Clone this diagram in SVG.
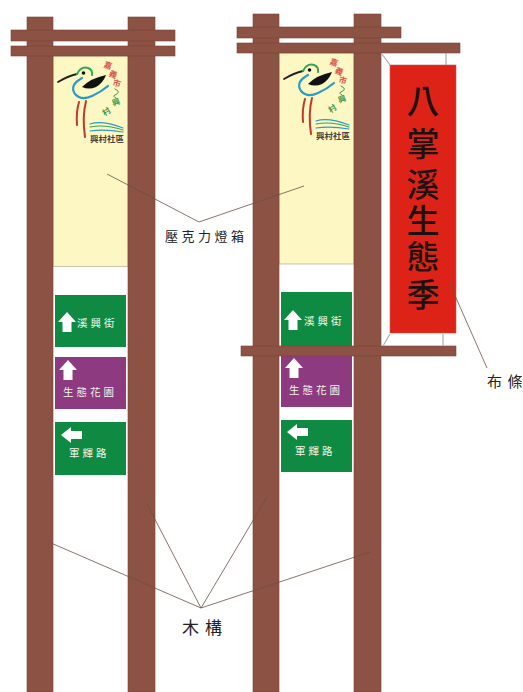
<svg xmlns="http://www.w3.org/2000/svg" width="523" height="692" viewBox="0 0 523 692">
<style>
.wood{fill:#8c5243;stroke:#7a4536;stroke-width:.6}
.panel{fill:#fdf7c4;stroke:#a89f86;stroke-width:.6}
.green{fill:#0e8a43}
.purple{fill:#8e3a80}
.arrow{fill:#fff}
.sign{font-family:"Noto Sans CJK TC","Liberation Sans",sans-serif;fill:#f2f7e8;font-size:10.500px;letter-spacing:3px}
.label{font-family:"Noto Sans CJK TC","Liberation Sans",sans-serif;fill:#222;font-size:13px;letter-spacing:4px}
.lead{fill:none;stroke:#6b5148;stroke-width:.8}
.tie{fill:none;stroke:#a9aeb4;stroke-width:1.2}
.big{font-family:"Noto Sans CJK TC","Liberation Serif",serif;fill:#1d1010;font-size:33px;font-weight:500;text-anchor:middle}
.lg{fill:none;stroke-linecap:round}
.cap{font-family:"Noto Sans CJK TC","Liberation Sans",sans-serif;fill:#444;font-size:8.500px;font-weight:700}
.rt{font-family:"Noto Sans CJK TC","Liberation Sans",sans-serif;font-size:8px;font-weight:700;text-anchor:middle}
</style>
<defs>
<g id="logo">
<path class="lg" d="M3 25 Q13 19 22 17" stroke="#222" stroke-width="1.800"/>
<path class="lg" d="M22 17 Q26 9 33 11 Q38 13 37 18" stroke="#35a655" stroke-width="2"/>
<circle cx="28.500" cy="16" r="1.800" fill="#111"/>
<path class="lg" d="M27 21 Q14 28 20 37 Q26 44 37 39 Q46 35 53 29" stroke="#2a9cc4" stroke-width="2.200"/>
<path d="M27 30 Q36 21 51 18 Q48 26 41 30 Q34 33 27 30Z" fill="#111"/>
<path class="lg" d="M24 45 Q21 55 22 68" stroke="#c0392b" stroke-width="2"/>
<path class="lg" d="M31 44 Q27 60 30 80" stroke="#c0392b" stroke-width="2"/>
<path class="lg" d="M35 67 Q47 63 68 71" stroke="#2a9cc4" stroke-width="1.200"/>
<path class="lg" d="M35 70 Q50 67 68 73" stroke="#35a655" stroke-width="1.200"/>
<path class="lg" d="M35 74 Q50 72 68 75" stroke="#2a9cc4" stroke-width="1.200"/>
<text class="cap" x="35" y="84.500">興村社區</text>
<text class="rt" fill="#d9534f" x="52" y="11" transform="rotate(20 52 11)">嘉</text>
<text class="rt" fill="#d9534f" x="57" y="20" transform="rotate(25 57 20)">義</text>
<text class="rt" fill="#d9534f" x="61" y="29" transform="rotate(15 61 29)">市</text>
<text class="rt" fill="#3f9a48" x="62" y="48" transform="rotate(-20 62 48)">興</text>
<text class="rt" fill="#3f9a48" x="53" y="57" transform="rotate(-35 53 57)">村</text>
<path class="lg" d="M60 32 Q67 35 60 38 Q57 39 61 41" stroke="#3f9a48" stroke-width="1"/>
</g>
<path id="up" class="arrow" d="M0 -10 L9 0 L4.500 0 L4.500 10 L-4.500 10 L-4.500 0 L-9 0Z"/>
<path id="left" class="arrow" d="M-10 0 L0 -8 L0 -4 L11 -4 L11 4 L0 4 L0 8Z"/>
</defs>

<g id="sign-left">
<rect class="panel" x="53" y="56" width="75" height="210.500"/>
<use href="#logo" x="55" y="57"/>
<rect class="green" x="55" y="295" width="71" height="52"/>
<use href="#up" x="67" y="322"/>
<text class="sign" x="77" y="327">溪興街</text>
<rect class="purple" x="55" y="357" width="71" height="52"/>
<use href="#up" x="68" y="370"/>
<text class="sign" x="63" y="396">生態花園</text>
<rect class="green" x="55" y="422" width="71" height="53"/>
<use href="#left" x="71" y="435"/>
<text class="sign" x="69" y="457">軍輝路</text>
<rect class="wood" x="27" y="17" width="26" height="675"/>
<rect class="wood" x="128" y="17" width="27" height="675"/>
<rect class="wood" x="11" y="30" width="164" height="11"/>
<rect class="wood" x="11" y="46" width="164" height="10"/>
</g>

<g id="sign-right">
<rect class="panel" x="279" y="53" width="75" height="211"/>
<use href="#logo" x="281" y="54"/>
<rect class="green" x="281" y="292" width="71" height="54"/>
<use href="#up" x="293" y="320"/>
<text class="sign" x="304" y="325">溪興街</text>
<rect class="purple" x="281" y="355" width="71" height="52"/>
<use href="#up" x="294" y="368"/>
<text class="sign" x="289" y="394">生態花園</text>
<rect class="green" x="281" y="420" width="71" height="52"/>
<use href="#left" x="297" y="432"/>
<text class="sign" x="295" y="455">軍輝路</text>
<rect class="wood" x="253" y="14" width="26" height="678"/>
<rect class="wood" x="354" y="14" width="27" height="678"/>
<rect class="wood" x="237" y="27" width="164" height="11"/>
<rect class="wood" x="237" y="43" width="223" height="10"/>
<rect class="wood" x="241" y="346" width="215" height="10"/>
</g>

<g id="banner">
<path class="tie" d="M382 54 L390 65 M446 53 V65 M390 334 L383 346 M443 334 V346"/>
<rect x="390" y="65" width="66" height="268" fill="#dd2317" stroke="#c9574a" stroke-width=".6"/>
<text class="big" x="423 423 423 423 423 423" y="113 156 197 233 269 307">八掌溪生態季</text>
</g>

<g id="connectors">
<path class="lead" d="M107 174 L199 222 L304 186"/>
<path class="lead" d="M51 543 L201 608 L147 504 M201 608 L267 497 M201 608 L370 552"/>
<path class="lead" d="M449 282 L487 368"/>
</g>

<g id="labels">
<text class="label" x="165" y="241" style="letter-spacing:3.500px">壓克力燈箱</text>
<text class="label" x="487 507.500" y="387" style="font-size:15px;letter-spacing:0">布條</text>
<text class="label" x="182" y="634" style="font-size:17px;letter-spacing:6px">木構</text>
</g>
</svg>
